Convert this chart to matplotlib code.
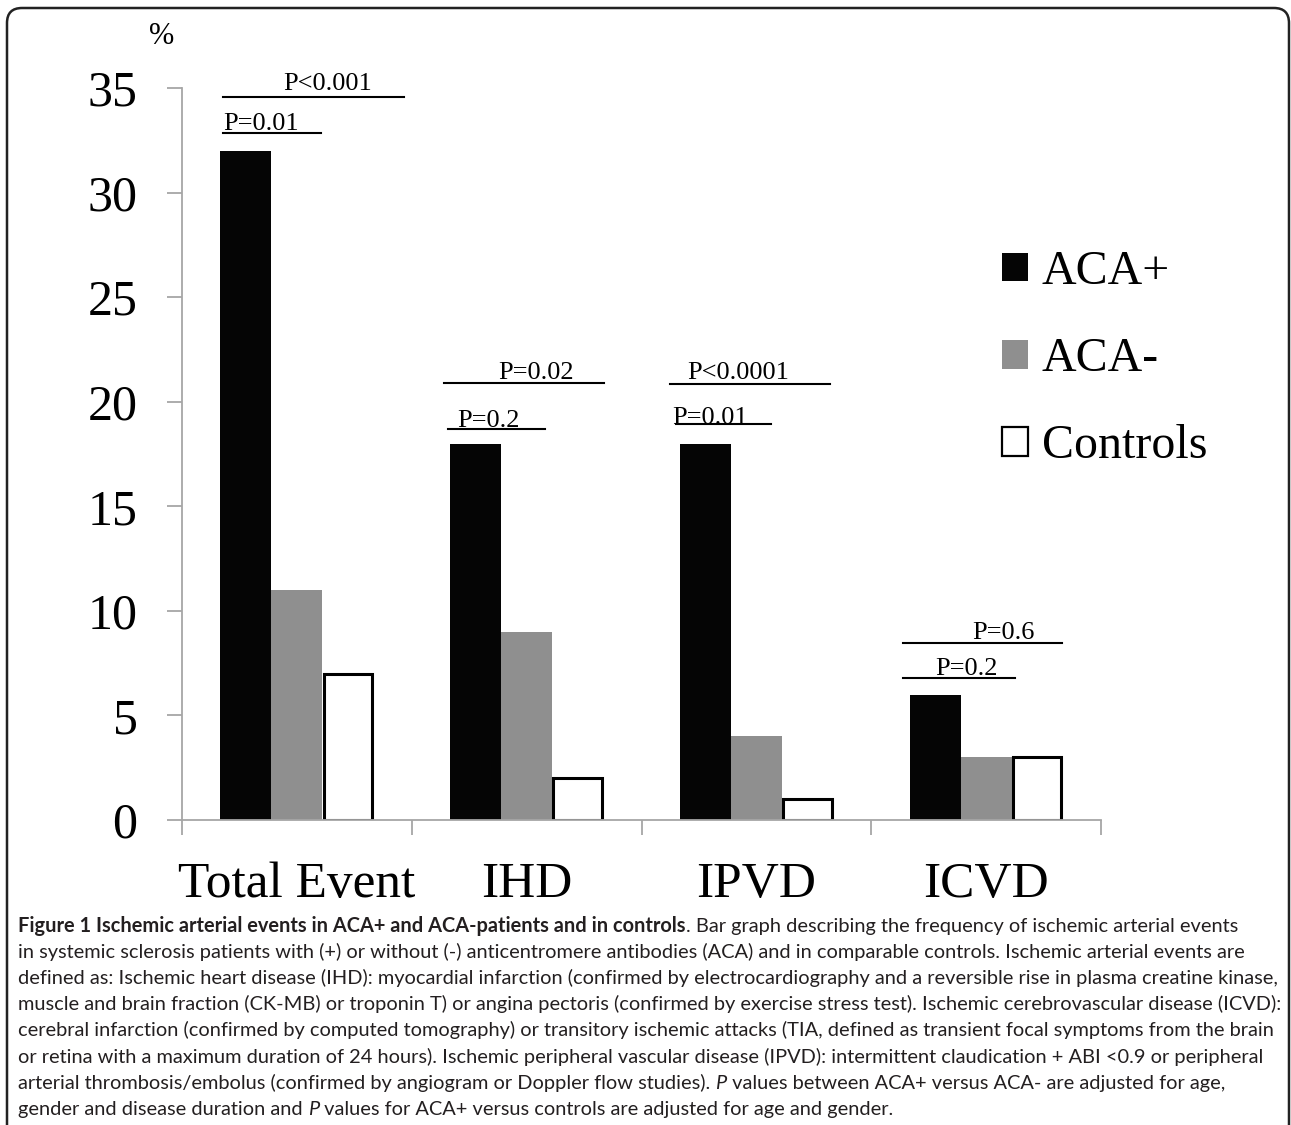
import matplotlib
matplotlib.use("Agg")
import matplotlib.pyplot as plt
from matplotlib.patches import FancyBboxPatch
import numpy as np

categories = ["Total Event", "IHD", "IPVD", "ICVD"]
series_names = ["ACA+", "ACA-", "Controls"]
aca_pos = [32, 18, 18, 6]
aca_neg = [11, 9, 4, 3]
controls = [7, 2, 1, 3]
y_ticks = [0, 5, 10, 15, 20, 25, 30, 35]

p_labels = ["P<0.001", "P=0.01", "P=0.02", "P=0.2", "P<0.0001", "P=0.01", "P=0.6", "P=0.2"]
# (line x0, line x1, line y, text x, text y) in data units
p_pos = [(-0.322, 0.465, 34.58, -0.061, 34.9),
         (-0.322, 0.104, 32.86, -0.322, 33.0),
         (0.639, 1.335, 20.90, 0.878, 21.09),
         (0.657, 1.078, 18.70, 0.700, 18.79),
         (1.626, 2.322, 20.85, 1.700, 21.09),
         (1.652, 2.065, 18.94, 1.635, 18.95),
         (2.639, 3.330, 8.46, 2.939, 8.66),
         (2.639, 3.126, 6.79, 2.778, 6.93)]

W, H = 1291, 1125
serif = "Liberation Serif"

fig = plt.figure(figsize=(W / 100, H / 100), dpi=100)
ax = fig.add_axes([182 / W, 1 - 820 / H, (1101 - 182) / W, (820 - 88) / H])

x = np.arange(len(categories))
bw = 0.222
b1 = ax.bar(x - bw, aca_pos, bw, color="#050505", edgecolor="none")
b2 = ax.bar(x, aca_neg, bw, color="#8f8f8f", edgecolor="none")
b3 = ax.bar(x + bw, controls, bw * 0.95, color="white", edgecolor="black", linewidth=2.2)

ax.set_xlim(-0.5, len(categories) - 0.5)
ax.set_ylim(0, 35)
for s in ["top", "right"]:
    ax.spines[s].set_visible(False)
for s in ["left", "bottom"]:
    ax.spines[s].set_color("#a6a6a6")
    ax.spines[s].set_linewidth(1.3)

ax.set_yticks(y_ticks)
ax.set_yticklabels([str(v) for v in y_ticks], fontsize=36, family=serif)
ax.tick_params(axis="y", length=11, width=1.3, color="#a6a6a6", pad=21)

ax.set_xticks(np.arange(len(categories) + 1) - 0.5)
ax.set_xticklabels([])
ax.tick_params(axis="x", which="major", length=11, width=1.3, color="#a6a6a6")
ax.set_xticks(x, minor=True)
ax.set_xticklabels(categories, minor=True, fontsize=37, family=serif)
ax.tick_params(axis="x", which="minor", length=0, pad=30)

for lab, (lx0, lx1, ly, tx, ty) in zip(p_labels, p_pos):
    ax.plot([lx0, lx1], [ly, ly], color="black", lw=1.5, clip_on=False)
    ax.text(tx, ty, lab, fontsize=19, family=serif, ha="left", va="baseline")

fig.text(162 / W, 1 - 37 / H, "%", fontsize=22, family=serif, ha="center", va="center")

leg = ax.legend([b1, b2, b3], series_names, loc="upper left",
                bbox_to_anchor=(1002 / W, 1 - 250 / H), bbox_transform=fig.transFigure,
                frameon=False, prop={"family": serif, "size": 34.5},
                borderpad=0, borderaxespad=0,
                handlelength=0.55, handleheight=0.55, handletextpad=0.28, labelspacing=0.9)
leg.legend_handles[2].set_linewidth(1.6)

# frame around figure
frame = FancyBboxPatch((7 / 100, -0.5), (1289 - 7) / 100, (H - 8) / 100 + 0.5,
                       boxstyle="round,pad=0,rounding_size=0.15",
                       transform=fig.dpi_scale_trans, fill=False,
                       edgecolor="#222222", lw=1.8, clip_on=False)
fig.patches.append(frame)

# caption
cap_font = "Lato"
cap_lines = [
    [("Figure 1 Ischemic arterial events in ACA+ and ACA-patients and in controls", "bold", "normal"),
     (". Bar graph describing the frequency of ischemic arterial events", "normal", "normal")],
    [("in systemic sclerosis patients with (+) or without (-) anticentromere antibodies (ACA) and in comparable controls. Ischemic arterial events are", "normal", "normal")],
    [("defined as: Ischemic heart disease (IHD): myocardial infarction (confirmed by electrocardiography and a reversible rise in plasma creatine kinase,", "normal", "normal")],
    [("muscle and brain fraction (CK-MB) or troponin T) or angina pectoris (confirmed by exercise stress test). Ischemic cerebrovascular disease (ICVD):", "normal", "normal")],
    [("cerebral infarction (confirmed by computed tomography) or transitory ischemic attacks (TIA, defined as transient focal symptoms from the brain", "normal", "normal")],
    [("or retina with a maximum duration of 24 hours). Ischemic peripheral vascular disease (IPVD): intermittent claudication + ABI <0.9 or peripheral", "normal", "normal")],
    [("arterial thrombosis/embolus (confirmed by angiogram or Doppler flow studies). ", "normal", "normal"),
     ("P", "normal", "italic"),
     (" values between ACA+ versus ACA- are adjusted for age,", "normal", "normal")],
    [("gender and disease duration and ", "normal", "normal"),
     ("P", "normal", "italic"),
     (" values for ACA+ versus controls are adjusted for age and gender.", "normal", "normal")],
]

renderer = fig.canvas.get_renderer()
cap_size = 13.0
# fit the second line to the width seen in the figure
tmp = fig.text(0, 0, "".join(p[0] for p in cap_lines[1]), fontsize=cap_size, family=cap_font)
wpx = tmp.get_window_extent(renderer).width
tmp.remove()
cap_size = cap_size * 1230 / wpx

for i, pieces in enumerate(cap_lines):
    xpos = 18 / W
    ypos = 1 - (932 + 26.1 * i) / H
    for s, wt, st in pieces:
        t = fig.text(xpos, ypos, s, fontsize=cap_size, family=cap_font, fontweight=wt,
                     fontstyle=st, va="baseline", ha="left", color="#231f20")
        xpos = t.get_window_extent(renderer).x1 / W

fig.savefig("out.png", dpi=100)
